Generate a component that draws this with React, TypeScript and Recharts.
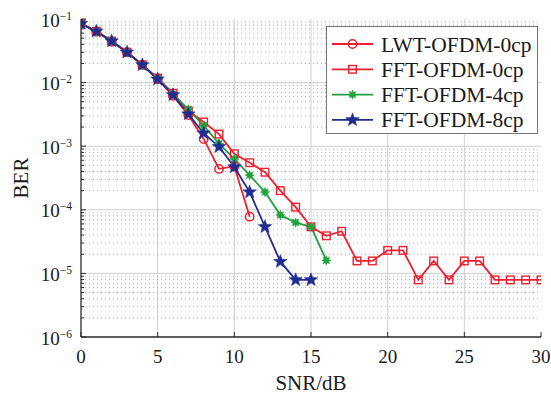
import React from "react";
import {
  LineChart,
  Line,
  XAxis,
  YAxis,
  ReferenceLine,
  Legend,
} from "recharts";

// ---------- data ----------
const SERIES_NAMES = ["LWT-OFDM-0cp", "FFT-OFDM-0cp", "FFT-OFDM-4cp", "FFT-OFDM-8cp"];

const LWT_0CP_SNR = [0, 1, 2, 3, 4, 5, 6, 7, 8, 9, 10, 11];
const LWT_0CP_BER = [0.085, 0.063, 0.044, 0.03, 0.019, 0.0113, 0.0062, 0.0031, 0.0013, 0.00044, 0.00048, 0.000078];

const FFT_0CP_SNR = [0, 1, 2, 3, 4, 5, 6, 7, 8, 9, 10, 11, 12, 13, 14, 15, 16, 17, 18, 19, 20, 21, 22, 23, 24, 25, 26, 27, 28, 29, 30];
const FFT_0CP_BER = [
  0.085, 0.064, 0.045, 0.03, 0.019, 0.0118, 0.0068, 0.0036, 0.0024, 0.00155, 0.00076, 0.00055, 0.00039, 0.0002,
  0.00011, 0.000054, 0.000039, 0.000046, 0.0000157, 0.0000157, 0.000023, 0.000023, 0.0000079, 0.0000157, 0.0000079,
  0.0000157, 0.0000157, 0.0000079, 0.0000079, 0.0000079, 0.0000079,
];

const FFT_4CP_SNR = [0, 1, 2, 3, 4, 5, 6, 7, 8, 9, 10, 11, 12, 13, 14, 15, 16];
const FFT_4CP_BER = [0.085, 0.064, 0.045, 0.03, 0.019, 0.0115, 0.0066, 0.0038, 0.0021, 0.0011, 0.00063, 0.00035, 0.00019, 0.000083, 0.000063, 0.000054, 0.000016];

const FFT_8CP_SNR = [0, 1, 2, 3, 4, 5, 6, 7, 8, 9, 10, 11, 12, 13, 14, 15];
const FFT_8CP_BER = [0.085, 0.064, 0.045, 0.03, 0.019, 0.0113, 0.0064, 0.0032, 0.0016, 0.00098, 0.00047, 0.00019, 0.000054, 0.0000153, 0.0000079, 0.0000079];

const X_TICKS = [0, 5, 10, 15, 20, 25, 30];
const Y_MAJOR = [1e-6, 1e-5, 1e-4, 1e-3, 1e-2, 1e-1];
const Y_EXPONENTS = ["−6", "−5", "−4", "−3", "−2", "−1"];
const MINOR_MULTIPLIERS = [2, 3, 4, 5, 6, 7, 8, 9];

const Y_MINOR: number[] = [];
Y_MAJOR.slice(0, -1).forEach((d) => MINOR_MULTIPLIERS.forEach((m) => Y_MINOR.push(d * m)));
const Y_ALL = [...Y_MAJOR, ...Y_MINOR].sort((a, b) => a - b);

const toPoints = (xs: number[], ys: number[]) => xs.map((x, i) => ({ x, y: ys[i] }));
const lwt = toPoints(LWT_0CP_SNR, LWT_0CP_BER);
const fft0 = toPoints(FFT_0CP_SNR, FFT_0CP_BER);
const fft4 = toPoints(FFT_4CP_SNR, FFT_4CP_BER);
const fft8 = toPoints(FFT_8CP_SNR, FFT_8CP_BER);

// ---------- styles ----------
const RED = "#ee2030";
const GREEN = "#1fa23e";
const BLUE = "#1f2d90";
const AXIS = "#2a2a2a";
const FONT = "'Liberation Serif', 'Times New Roman', serif";

// ---------- markers ----------
const starPoints = (cx: number, cy: number, n: number, R: number, r: number, rot = -Math.PI / 2) => {
  const pts: string[] = [];
  for (let i = 0; i < n * 2; i++) {
    const rad = i % 2 === 0 ? R : r;
    const a = rot + (i * Math.PI) / n;
    pts.push(`${(cx + rad * Math.cos(a)).toFixed(2)},${(cy + rad * Math.sin(a)).toFixed(2)}`);
  }
  return pts.join(" ");
};

const CircleMark = ({ cx, cy }: { cx: number; cy: number }) => (
  <circle cx={cx} cy={cy} r={4.2} fill="none" stroke={RED} strokeWidth={1.5} />
);
const SquareMark = ({ cx, cy }: { cx: number; cy: number }) => (
  <rect x={cx - 3.8} y={cy - 3.8} width={7.6} height={7.6} fill="none" stroke={RED} strokeWidth={1.4} />
);
const AsteriskMark = ({ cx, cy }: { cx: number; cy: number }) => (
  <polygon points={starPoints(cx, cy, 8, 4.6, 2.4)} fill={GREEN} stroke={GREEN} strokeWidth={0.6} />
);
const StarMark = ({ cx, cy }: { cx: number; cy: number }) => (
  <polygon points={starPoints(cx, cy, 5, 7, 2.9)} fill={BLUE} stroke={BLUE} strokeWidth={0.6} />
);

const makeDot = (Mark: any, name: string) => (props: any) => {
  const { cx, cy, index } = props;
  if (cx == null || cy == null) return <g key={`${name}-${index}`} />;
  return (
    <g key={`${name}-${index}`}>
      <Mark cx={cx} cy={cy} />
    </g>
  );
};

// ---------- ticks ----------
const BottomTick = (props: any) => {
  const { x, y, payload } = props;
  return (
    <g>
      <line x1={x} y1={y} x2={x} y2={y - 5} stroke={AXIS} strokeWidth={1} />
      <text x={x} y={y + 26} textAnchor="middle" fontFamily={FONT} fontSize={19} fill="#1a1a1a">
        {payload.value}
      </text>
    </g>
  );
};
const TopTick = (props: any) => {
  const { x, y } = props;
  return <line x1={x} y1={y} x2={x} y2={y + 5} stroke={AXIS} strokeWidth={1} />;
};
const LeftTick = (props: any) => {
  const { x, y, payload } = props;
  const idx = Y_MAJOR.findIndex((v) => Math.abs(v - payload.value) / v < 1e-6);
  const major = idx >= 0;
  return (
    <g>
      <line x1={x} y1={y} x2={x + (major ? 5 : 3)} y2={y} stroke={AXIS} strokeWidth={1} />
      {major && (
        <text x={x - 9} y={y + 7.5} textAnchor="end" fontFamily={FONT} fontSize={19} fill="#1a1a1a">
          <tspan>10</tspan>
          <tspan dy={-7} fontSize={11.5}>
            {Y_EXPONENTS[idx]}
          </tspan>
        </text>
      )}
    </g>
  );
};
const RightTick = (props: any) => {
  const { x, y, payload } = props;
  const major = Y_MAJOR.some((v) => Math.abs(v - payload.value) / v < 1e-6);
  return <line x1={x} y1={y} x2={x - (major ? 5 : 3)} y2={y} stroke={AXIS} strokeWidth={1} />;
};

// ---------- legend ----------
const LEGEND_ITEMS = [
  { name: SERIES_NAMES[0], color: RED, Mark: CircleMark },
  { name: SERIES_NAMES[1], color: RED, Mark: SquareMark },
  { name: SERIES_NAMES[2], color: GREEN, Mark: AsteriskMark },
  { name: SERIES_NAMES[3], color: BLUE, Mark: StarMark },
];

const LegendBox = () => (
  <svg width={212} height={108} style={{ display: "block" }}>
    <rect x={0.5} y={0.5} width={211} height={107} fill="#fff" stroke="#555" strokeWidth={0.8} />
    {LEGEND_ITEMS.map((it, i) => {
      const cy = 18 + i * 25.3;
      return (
        <g key={it.name}>
          <line x1={6} y1={cy} x2={47} y2={cy} stroke={it.color} strokeWidth={1.8} />
          <it.Mark cx={26.5} cy={cy} />
          <text x={55} y={cy + 7.5} fontFamily={FONT} fontSize={21.5} fill="#1a1a1a">
            {it.name}
          </text>
        </g>
      );
    })}
  </svg>
);

export default function App() {
  return (
    <div style={{ position: "absolute", left: 0, top: 0, width: 551, height: 397, background: "#fff" }}>
      <LineChart width={551} height={397} margin={{ top: 19, right: 10, left: 0, bottom: 0 }}>
        <XAxis
          xAxisId="bottom"
          dataKey="x"
          type="number"
          domain={[0, 30]}
          ticks={X_TICKS}
          allowDataOverflow
          height={60}
          tickLine={false}
          tickSize={0}
          tickMargin={0}
          tick={<BottomTick />}
          axisLine={{ stroke: AXIS, strokeWidth: 1.3 }}
          interval={0}
        />
        <XAxis
          xAxisId="top"
          orientation="top"
          dataKey="x"
          type="number"
          domain={[0, 30]}
          ticks={X_TICKS}
          allowDataOverflow
          height={0}
          tickLine={false}
          tickSize={0}
          tickMargin={0}
          tick={<TopTick />}
          axisLine={{ stroke: AXIS, strokeWidth: 1.3 }}
          interval={0}
        />
        <YAxis
          yAxisId="left"
          type="number"
          scale="log"
          domain={[1e-6, 1e-1]}
          ticks={Y_ALL}
          allowDataOverflow
          width={81}
          tickLine={false}
          tickSize={0}
          tickMargin={0}
          tick={<LeftTick />}
          axisLine={{ stroke: AXIS, strokeWidth: 1.3 }}
          interval={0}
          label={{
            value: "BER",
            angle: -90,
            position: "insideLeft",
            offset: 0,
            content: () => (
              <text
                x={28}
                y={178}
                transform="rotate(-90, 28, 178)"
                textAnchor="middle"
                fontFamily={FONT}
                fontSize={21}
                fill="#1a1a1a"
              >
                BER
              </text>
            ),
          }}
        />
        <YAxis
          yAxisId="right"
          orientation="right"
          type="number"
          scale="log"
          domain={[1e-6, 1e-1]}
          ticks={Y_ALL}
          allowDataOverflow
          width={0}
          tickLine={false}
          tickSize={0}
          tickMargin={0}
          tick={<RightTick />}
          axisLine={{ stroke: AXIS, strokeWidth: 1.3 }}
          interval={0}
        />

        {X_TICKS.slice(1, -1).map((v) => (
          <ReferenceLine key={`vx${v}`} xAxisId="bottom" yAxisId="left" x={v} stroke="#cfcfcf" strokeWidth={1} />
        ))}
        {Y_MAJOR.slice(1, -1).map((v) => (
          <ReferenceLine key={`hy${v}`} xAxisId="bottom" yAxisId="left" y={v} stroke="#cfcfcf" strokeWidth={1} />
        ))}
        {Y_MINOR.map((v) => (
          <ReferenceLine
            key={`my${v}`}
            xAxisId="bottom"
            yAxisId="left"
            y={v}
            stroke="#b0b0b0"
            strokeWidth={1}
            strokeDasharray="1 3"
          />
        ))}

        <Line
          xAxisId="bottom"
          yAxisId="left"
          data={lwt}
          dataKey="y"
          name={SERIES_NAMES[0]}
          stroke={RED}
          strokeWidth={1.8}
          dot={makeDot(CircleMark, "c")}
          activeDot={false}
          isAnimationActive={false}
        />
        <Line
          xAxisId="bottom"
          yAxisId="left"
          data={fft0}
          dataKey="y"
          name={SERIES_NAMES[1]}
          stroke={RED}
          strokeWidth={1.8}
          dot={makeDot(SquareMark, "s")}
          activeDot={false}
          isAnimationActive={false}
        />
        <Line
          xAxisId="bottom"
          yAxisId="left"
          data={fft4}
          dataKey="y"
          name={SERIES_NAMES[2]}
          stroke={GREEN}
          strokeWidth={1.8}
          dot={makeDot(AsteriskMark, "g")}
          activeDot={false}
          isAnimationActive={false}
        />
        <Line
          xAxisId="bottom"
          yAxisId="left"
          data={fft8}
          dataKey="y"
          name={SERIES_NAMES[3]}
          stroke={BLUE}
          strokeWidth={1.8}
          dot={makeDot(StarMark, "b")}
          activeDot={false}
          isAnimationActive={false}
        />

        <Legend
          layout="vertical"
          align="center"
          verticalAlign="middle"
          wrapperStyle={{ position: "absolute", left: 326, top: 26, width: 212, height: 108 }}
          content={() => <LegendBox />}
        />
      </LineChart>
      <div
        style={{
          position: "absolute",
          left: 81,
          width: 460,
          top: 371,
          textAlign: "center",
          fontFamily: FONT,
          fontSize: 21,
          color: "#1a1a1a",
          lineHeight: "24px",
        }}
      >
        SNR/dB
      </div>
    </div>
  );
}
